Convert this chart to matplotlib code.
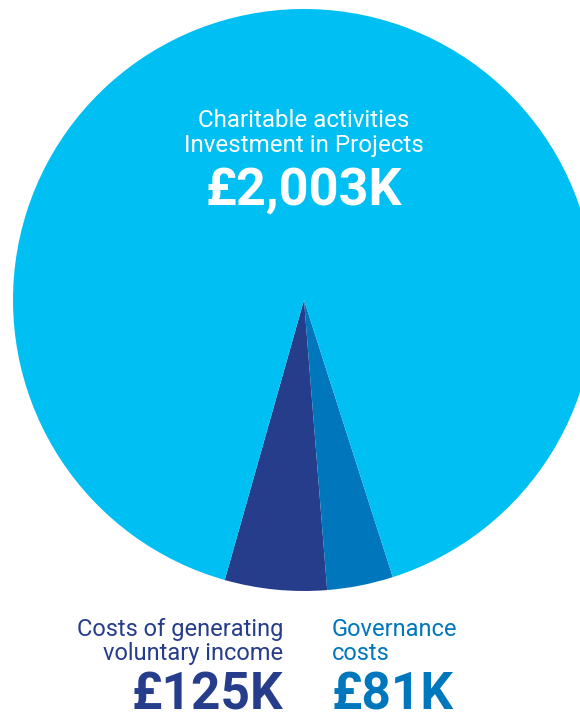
import numpy as np
import matplotlib.pyplot as plt

# Expenditure breakdown (GBP thousands)
labels = ['Costs of generating\nvoluntary income', 'Governance\ncosts',
          'Charitable activities\nInvestment in Projects']
values = [125, 81, 2003]
colors = ['#263d8c', '#0077bd', '#00bff3']

W, H = 580, 720
fig = plt.figure(figsize=(W / 100, H / 100), dpi=100)
ax = fig.add_axes([0, 0, 1, 1])

cx, cy, r = 304, H - 300, 291
ax.pie(values, colors=colors, startangle=254.2, counterclock=True,
       center=(cx, cy), radius=r, frame=True,
       wedgeprops=dict(linewidth=0))
ax.set_xlim(0, W)
ax.set_ylim(0, H)
ax.set_aspect('equal')
ax.axis('off')

font = 'Roboto'

def amount(v):
    return '£{:,}K'.format(v)

# main slice label, inside the pie
ax.text(cx, H - 127, labels[2].split('\n')[0], ha='center', va='baseline',
        color='white', fontsize=17.4, family=font)
ax.text(cx, H - 152, labels[2].split('\n')[1], ha='center', va='baseline',
        color='white', fontsize=17.4, family=font)
ax.text(cx, H - 205, amount(values[2]), ha='center', va='baseline',
        color='white', fontsize=37.5, fontweight='bold', family=font)

# small slices, labelled underneath
for x, ha, lab, v, c in [(283, 'right', labels[0], values[0], colors[0]),
                         (332, 'left', labels[1], values[1], colors[1])]:
    l1, l2 = lab.split('\n')
    ax.text(x, H - 636, l1, ha=ha, va='baseline', color=c,
            fontsize=17, family=font)
    ax.text(x, H - 660, l2, ha=ha, va='baseline', color=c,
            fontsize=17, family=font)
    ax.text(x, H - 709, amount(v), ha=ha, va='baseline', color=c,
            fontsize=37, fontweight='bold', family=font)

fig.savefig('out.png', dpi=100)
